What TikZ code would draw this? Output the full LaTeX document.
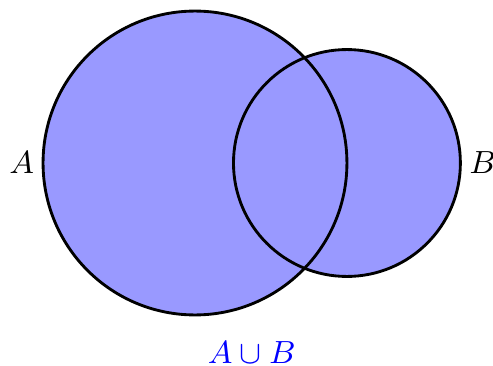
\documentclass[tikz,border=0pt]{standalone}
\usetikzlibrary{positioning}
\tikzset{setfill/.style={fill=blue!40},
  setline/.style={draw, thick}}

\begin{document}
\begin{tikzpicture}[font=\small]
  \useasboundingbox (-1.925,-2.004) rectangle (2.942,1.609);
  \coordinate (ca) at (0,0);
  \coordinate (cb) at (1.5,0);
  % fill both sets, then the outlines
  \fill[setfill] (ca) circle (1.5);
  \fill[setfill] (cb) circle (1.12);
  \draw[setline] (ca) circle (1.5);
  \draw[setline] (cb) circle (1.12);
  % labels
  \node (la) at (-1.71,0) {$A$};
  \node (lb) at (2.84,0) {$B$};
  \node[blue] (lu) at (0.56,-1.87) {$A\cup B$};
\end{tikzpicture}
\end{document}
